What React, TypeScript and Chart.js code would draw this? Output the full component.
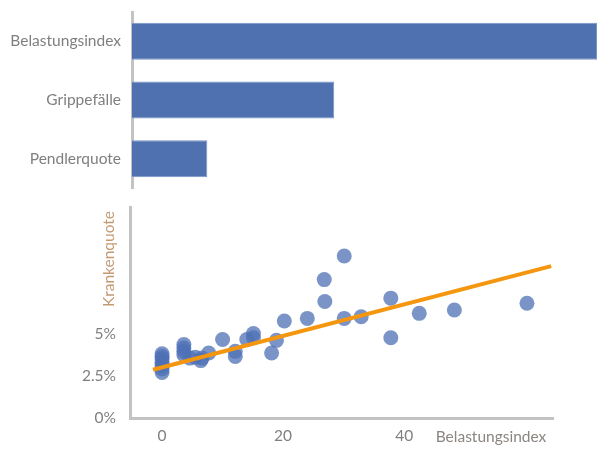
import React, { useEffect, useRef } from "react";
import { Chart, registerables } from "chart.js";

Chart.register(...registerables);

// ---- Data ----
const barLabels = ["Belastungsindex", "Grippefälle", "Pendlerquote"];
const barValues = [1.0, 0.435, 0.162];

const scatterX = [
  0, 0, 0, 0, 0, 0, 0,
  3.6, 3.6, 3.6, 3.6,
  4.6, 5.5, 6.4, 6.6, 7.7,
  10, 12.1, 12.1, 14, 15.1, 15.1, 18.1, 18.9, 20.2, 24,
  26.8, 26.9, 30.1, 30.1, 32.9, 37.8, 37.8, 42.5, 48.3, 60.3,
];
const scatterY = [
  3.8, 3.65, 3.5, 3.3, 3.1, 2.9, 2.7,
  4.35, 4.15, 3.95, 3.75,
  3.55, 3.6, 3.4, 3.55, 3.85,
  4.65, 3.95, 3.65, 4.65, 5.0, 4.75, 3.85, 4.6, 5.75, 5.9,
  8.2, 6.9, 9.6, 5.9, 6.0, 7.1, 4.75, 6.2, 6.4, 6.8,
];
const trendX = [-1.5, 64.3];
const trendY = [2.86, 9.0];

const xTickValues = [0, 20, 40, 60];
const yTickValues = [0, 2.5, 5, 7.5, 10, 12.5];
const yLabelMax = 5;
const xLabelMax = 40;

const xTitle = "Belastungsindex";
const yTitle = "Krankenquote";

// ---- Styles ----
const FONT = "Lato";
const FONT_SIZE = 15.5;
const BAR_COLOR = "#4f71b0";
const POINT_COLOR = "rgba(78, 112, 182, 0.75)";
const LINE_COLOR = "#f5960f";
const AXIS_COLOR = "#c3c3c3";
const TICK_COLOR = "#7f7f7f";
const YTITLE_COLOR = "#c49a74";
const XTITLE_COLOR = "#8c8580";

const noScalePadding = (s: any) => {
  s.paddingTop = 0;
  s.paddingBottom = 0;
  s.paddingLeft = 0;
  s.paddingRight = 0;
};

const titlePlugin = {
  id: "customTitles",
  afterDraw(chart: any) {
    const { ctx, chartArea } = chart;
    ctx.save();
    ctx.font = `${FONT_SIZE}px ${FONT}`;
    ctx.textAlign = "center";
    ctx.textBaseline = "middle";
    // x title (placed in the last tick slot)
    ctx.fillStyle = XTITLE_COLOR;
    ctx.fillText(xTitle, chartArea.right - 62, chartArea.bottom + 19);
    // y title (rotated, near top)
    ctx.fillStyle = YTITLE_COLOR;
    ctx.translate(chartArea.left - 21, chartArea.top + 52);
    ctx.rotate(-Math.PI / 2);
    ctx.fillText(yTitle, 0, 0);
    ctx.restore();
  },
};

export default function App() {
  const barRef = useRef<HTMLCanvasElement>(null);
  const scRef = useRef<HTMLCanvasElement>(null);

  useEffect(() => {
    const barChart = new Chart(barRef.current!, {
      type: "bar",
      data: {
        labels: barLabels,
        datasets: [
          {
            data: barValues,
            backgroundColor: BAR_COLOR,
            borderColor: "#7a93c6",
            borderWidth: 1,
            barPercentage: 0.9,
            categoryPercentage: 0.7,
          },
        ],
      },
      options: {
        indexAxis: "y",
        responsive: false,
        animation: false,
        layout: { padding: { left: 0, right: 18, top: 12, bottom: 12 } },
        plugins: { legend: { display: false }, tooltip: { enabled: false } },
        scales: {
          x: { display: false, min: 0, max: barValues[0] },
          y: {
            grid: { display: false, drawTicks: false },
            border: { display: true, color: AXIS_COLOR, width: 3 },
            ticks: { color: TICK_COLOR, font: { family: FONT, size: FONT_SIZE }, padding: 11 },
            afterFit: (s: any) => {
              s.width = 132;
              noScalePadding(s);
            },
          },
        },
      },
    });

    const scChart = new Chart(scRef.current!, {
      type: "scatter",
      data: {
        datasets: [
          {
            type: "line",
            data: trendX.map((x, i) => ({ x, y: trendY[i] })),
            borderColor: LINE_COLOR,
            borderWidth: 4,
            pointRadius: 0,
            fill: false,
            order: 0,
          } as any,
          {
            data: scatterX.map((x, i) => ({ x, y: scatterY[i] })),
            backgroundColor: POINT_COLOR,
            borderWidth: 0,
            pointRadius: 7.5,
            order: 1,
          },
        ],
      },
      options: {
        responsive: false,
        animation: false,
        layout: { padding: { left: 0, right: 62, top: 12, bottom: 0 } },
        plugins: { legend: { display: false }, tooltip: { enabled: false } },
        scales: {
          x: {
            type: "linear",
            min: -5.3,
            max: 64.6,
            grid: { display: false, drawTicks: false },
            border: { display: true, color: AXIS_COLOR, width: 3 },
            afterBuildTicks: (s: any) => {
              s.ticks = xTickValues.map((v) => ({ value: v }));
            },
            ticks: {
              color: TICK_COLOR,
              font: { family: FONT, size: FONT_SIZE },
              padding: 9,
              maxRotation: 0,
              callback: (v: any) => (v <= xLabelMax ? String(v) : ""),
            },
            afterFit: (s: any) => {
              s.height = 32;
              noScalePadding(s);
            },
          },
          y: {
            type: "linear",
            min: 0,
            max: 12.5,
            grid: { display: false, drawTicks: false },
            border: { display: true, color: AXIS_COLOR, width: 3 },
            afterBuildTicks: (s: any) => {
              s.ticks = yTickValues.map((v) => ({ value: v }));
            },
            ticks: {
              color: TICK_COLOR,
              font: { family: FONT, size: FONT_SIZE },
              padding: 14,
              callback: (v: any) => (v <= yLabelMax ? `${v}%` : ""),
            },
            afterFit: (s: any) => {
              s.width = 130;
              noScalePadding(s);
            },
          },
        },
      },
      plugins: [titlePlugin],
    });

    return () => {
      barChart.destroy();
      scChart.destroy();
    };
  }, []);

  return (
    <div style={{ position: "fixed", left: 0, top: 0, width: 615, height: 450, background: "#fff" }}>
      <canvas ref={barRef} width={615} height={200} style={{ position: "absolute", left: 0, top: 0 }} />
      <canvas ref={scRef} width={615} height={255} style={{ position: "absolute", left: 0, top: 195 }} />
    </div>
  );
}
